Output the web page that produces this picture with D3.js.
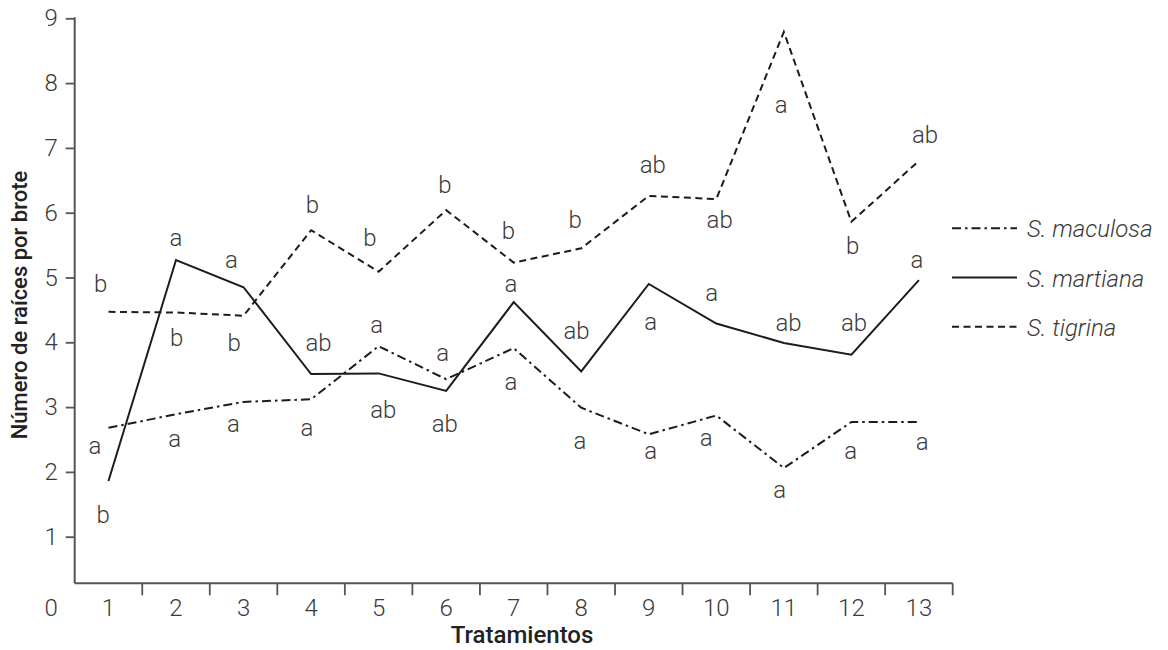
<!DOCTYPE html>
<html>
<head>
<meta charset="utf-8">
<script src="https://cdn.jsdelivr.net/npm/d3@7"></script>
<style>
  body { margin: 0; background: #fff; }
  svg text { font-family: Roboto, "Noto Sans", sans-serif; }
</style>
</head>
<body>
<div id="chart"></div>
<script>
// Número de raíces por brote en 13 tratamientos, tres especies
const treatments = [1, 2, 3, 4, 5, 6, 7, 8, 9, 10, 11, 12, 13];
const yTickValues = [0, 1, 2, 3, 4, 5, 6, 7, 8, 9];
const speciesNames = ["S. maculosa", "S. martiana", "S. tigrina"];

const maculosa = [2.68, 2.89, 3.08, 3.12, 3.94, 3.43, 3.91, 2.99, 2.58, 2.87, 2.06, 2.77, 2.77];
const martiana = [1.86, 5.27, 4.85, 3.51, 3.52, 3.25, 4.62, 3.55, 4.90, 4.29, 3.99, 3.81, 4.96];
const tigrina  = [4.47, 4.46, 4.41, 5.73, 5.09, 6.04, 5.23, 5.45, 6.26, 6.21, 8.79, 5.86, 6.80];

// letras de significancia (Tukey) por punto
const maculosaLetters = ["a","a","a","a","a","a","a","a","a","a","a","a","a"];
const martianaLetters = ["b","a","a","ab","ab","ab","a","ab","a","a","ab","ab","a"];
const tigrinaLetters  = ["b","b","b","b","b","b","b","b","ab","ab","a","b","ab"];

// dónde está cada letra, en unidades de los ejes [tratamiento, raíces]
const maculosaLetterAt = [[0.80,2.28],[1.98,2.39],[2.85,2.61],[3.94,2.55],[4.97,4.15],[5.95,3.71],[6.96,3.27],
                          [7.98,2.35],[9.03,2.20],[9.85,2.40],[10.94,1.59],[11.99,2.20],[13.05,2.34]];
const martianaLetterAt = [[0.92,1.21],[2.00,5.49],[2.82,5.15],[4.11,3.87],[5.07,2.83],[5.98,2.62],[6.96,4.78],
                          [7.93,4.05],[9.03,4.19],[9.93,4.63],[11.07,4.18],[12.04,4.18],[12.97,5.14]];
const tigrinaLetterAt  = [[0.885,4.78],[2.01,3.95],[2.86,3.87],[4.02,5.99],[4.87,5.48],[5.98,6.31],[6.92,5.60],
                          [7.91,5.77],[9.06,6.61],[10.05,5.77],[10.96,7.54],[12.02,5.36],[13.09,7.07]];

const CFG = {
  w: 1168, h: 650,
  x0: 74.7, x1: 952.7,       // eje X
  yTop: 18.3, yZero: 601.5,  // 9 y 0 en píxeles
  axisY: 583.3,              // línea del eje X
  ink: "#1c1c1c",
  axis: "#555",
  txt: "#3a3a3a",
  fs: 24
};

const styles = [
  { name: speciesNames[0], vals: maculosa, letters: maculosaLetters, at: maculosaLetterAt, dash: "9,4,2.5,4" },
  { name: speciesNames[1], vals: martiana, letters: martianaLetters, at: martianaLetterAt, dash: null },
  { name: speciesNames[2], vals: tigrina,  letters: tigrinaLetters,  at: tigrinaLetterAt,  dash: "7,4.5" }
];

const svg = d3.select("#chart").append("svg").attr("width", CFG.w).attr("height", CFG.h);

const x = d3.scaleLinear().domain([0.5, 13.5]).range([CFG.x0, CFG.x1]);
const y = d3.scaleLinear().domain([0, 9]).range([CFG.yZero, CFG.yTop]);

// Eje Y
const gy = svg.append("g").attr("transform", `translate(${CFG.x0},0)`)
  .call(d3.axisLeft(y).tickValues(yTickValues).tickSize(9).tickPadding(8).tickFormat(d3.format("d")));
gy.select(".domain").remove();
gy.selectAll(".tick line").attr("stroke", CFG.axis).attr("stroke-width", 1.8);
gy.selectAll(".tick").filter(d => d === 0).select("line").remove();
gy.selectAll(".tick").filter(d => d === 0).select("text").attr("dy", "0.6em");
gy.selectAll(".tick text").attr("font-size", CFG.fs).attr("font-weight", 300).attr("fill", CFG.txt);
svg.append("line")
  .attr("x1", CFG.x0).attr("x2", CFG.x0).attr("y1", y(9) - 1).attr("y2", CFG.axisY)
  .attr("stroke", CFG.axis).attr("stroke-width", 2);

// Eje X: marcas entre tratamientos, etiquetas centradas
const bounds = d3.range(1.5, 14, 1);
const gx = svg.append("g").attr("transform", `translate(0,${CFG.axisY})`);
gx.append("line").attr("x1", CFG.x0).attr("x2", CFG.x1).attr("stroke", CFG.axis).attr("stroke-width", 2);
gx.selectAll("line.tk").data(bounds).join("line").attr("class", "tk")
  .attr("x1", d => x(d)).attr("x2", d => x(d)).attr("y1", 0).attr("y2", 12)
  .attr("stroke", CFG.axis).attr("stroke-width", 1.8);
gx.selectAll("text").data(treatments).join("text")
  .attr("x", d => x(d)).attr("y", 32.5)
  .attr("text-anchor", "middle").attr("font-size", CFG.fs).attr("font-weight", 300)
  .attr("fill", CFG.txt).text(d => d);

// Títulos
svg.append("text").attr("x", 522).attr("y", 643)
  .attr("text-anchor", "middle").attr("font-size", 24).attr("font-weight", 500)
  .attr("fill", "#222").text("Tratamientos");
svg.append("text").attr("transform", "translate(27,305) rotate(-90)")
  .attr("text-anchor", "middle").attr("font-size", 22).attr("font-weight", 500)
  .attr("fill", "#222").text("Número de raíces por brote");

// Líneas
const line = d3.line().x((d, i) => x(treatments[i])).y(d => y(d));
styles.forEach(s => {
  svg.append("path").datum(s.vals)
    .attr("fill", "none").attr("stroke", CFG.ink).attr("stroke-width", 2)
    .attr("stroke-dasharray", s.dash).attr("d", line);
});

// Letras
styles.forEach(s => {
  svg.append("g").selectAll("text").data(s.letters).join("text")
    .attr("x", (d, i) => x(s.at[i][0]))
    .attr("y", (d, i) => y(s.at[i][1]))
    .attr("text-anchor", "middle").attr("font-size", CFG.fs).attr("font-weight", 300)
    .attr("fill", CFG.txt).text(d => d);
});

// Leyenda
const lg = svg.append("g");
styles.forEach((s, i) => {
  const ly = 228.3 + i * 49.2;
  lg.append("line").attr("x1", 952).attr("x2", 1017).attr("y1", ly).attr("y2", ly)
    .attr("stroke", CFG.ink).attr("stroke-width", 2).attr("stroke-dasharray", s.dash);
  lg.append("text").attr("x", 1027).attr("y", ly + 9)
    .attr("font-size", CFG.fs).attr("font-style", "italic").attr("font-weight", 300)
    .attr("fill", CFG.txt).text(s.name);
});
</script>
</body>
</html>
